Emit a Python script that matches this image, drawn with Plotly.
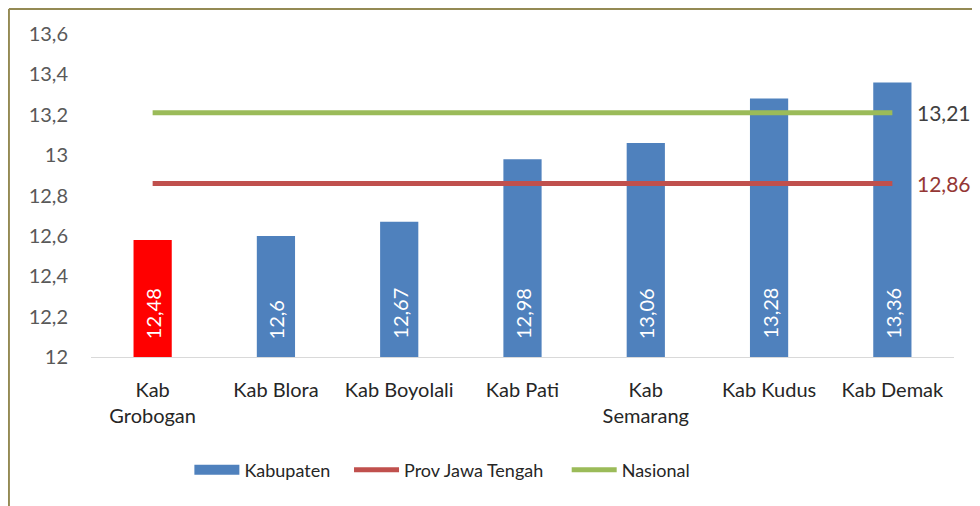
import plotly.graph_objects as go

categories = ["Kab<br>Grobogan", "Kab Blora", "Kab Boyolali", "Kab Pati",
              "Kab<br>Semarang", "Kab Kudus", "Kab Demak"]
kabupaten = [12.58, 12.60, 12.67, 12.98, 13.06, 13.28, 13.36]
bar_labels = ["12,48", "12,6", "12,67", "12,98", "13,06", "13,28", "13,36"]
prov_value = 12.86
nasional_value = 13.21
prov_label = "12,86"
nasional_label = "13,21"
y_min, y_max = 12.0, 13.6
y_ticks = [12.0, 12.2, 12.4, 12.6, 12.8, 13.0, 13.2, 13.4, 13.6]
y_ticktext = ["12", "12,2", "12,4", "12,6", "12,8", "13", "13,2", "13,4", "13,6"]

FONT = "Lato"
bar_colors = ["#FF0000"] + ["#4F81BD"] * (len(categories) - 1)
NB = "\u00a0"

fig = go.Figure()
# bars start at the axis minimum (like the original chart)
fig.add_trace(go.Bar(
    x=categories, y=[v - y_min for v in kabupaten], base=y_min,
    name="Kabupaten",
    marker=dict(color=bar_colors, line=dict(width=0)),
    width=0.31, showlegend=False,
))
# rotated data labels inside the bars, near the base
for cat, lab in zip(categories, bar_labels):
    fig.add_annotation(x=cat, y=y_min, text=lab, textangle=-90,
                       showarrow=False, yanchor="bottom", yshift=16,
                       font=dict(size=20, color="white", family=FONT))

# legend proxy for bars
fig.add_trace(go.Scatter(
    x=[None], y=[None], mode="lines", name="Kabupaten" + NB * 3,
    line=dict(color="#4F81BD", width=14),
))
fig.add_trace(go.Scatter(
    x=categories, y=[prov_value] * len(categories), mode="lines",
    name="Prov Jawa Tengah" + NB * 4, line=dict(color="#C0504D", width=5),
))
fig.add_trace(go.Scatter(
    x=categories, y=[nasional_value] * len(categories), mode="lines",
    name="Nasional", line=dict(color="#9BBB59", width=5),
))

fig.add_annotation(x=categories[-1], y=nasional_value, text=nasional_label,
                   showarrow=False, xanchor="left", xshift=23,
                   font=dict(size=21, color="#404040", family=FONT))
fig.add_annotation(x=categories[-1], y=prov_value, text=prov_label,
                   showarrow=False, xanchor="left", xshift=23,
                   font=dict(size=21, color="#953735", family=FONT))

frame = "#948A54"
fig.add_shape(type="line", xref="paper", yref="paper",
              x0=-0.0951, x1=-0.0951, y0=1.0774, y1=-0.5,
              line=dict(color=frame, width=2))
fig.add_shape(type="line", xref="paper", yref="paper",
              x0=-0.0951, x1=1.05, y0=1.0774, y1=1.0774,
              line=dict(color=frame, width=2))

fig.update_layout(
    width=980, height=506,
    margin=dict(l=83, r=34, t=26, b=157),
    paper_bgcolor="white", plot_bgcolor="white",
    separators=",.",
    font=dict(family=FONT, size=20, color="#262626"),
    hovermode=False,
    showlegend=True,
    legend=dict(orientation="h", x=0.114, xanchor="left", y=-0.35,
                yanchor="middle", font=dict(size=18, color="#262626"),
                itemwidth=45, traceorder="normal"),
)
fig.update_xaxes(range=[-0.5, len(categories) - 0.5],
                 showline=True, linecolor="#D9D9D9", linewidth=1,
                 showgrid=False, ticks="", ticklabelstandoff=15,
                 tickfont=dict(size=20, color="#262626", family=FONT))
fig.update_yaxes(range=[y_min, y_max], tickvals=y_ticks, ticktext=y_ticktext,
                 showgrid=False, zeroline=False, showline=False, ticks="",
                 ticklabelstandoff=22,
                 tickfont=dict(size=20, color="#595959", family=FONT))

fig.write_html("out.html")
